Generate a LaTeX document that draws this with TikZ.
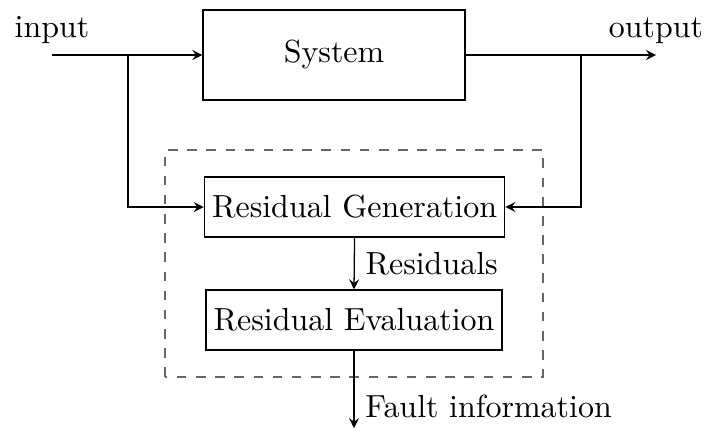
\documentclass[tikz,border=0pt]{standalone}
\usetikzlibrary{arrows}
\begin{document}
\begin{tikzpicture}[
        block/.style={draw,minimum height=0.66cm,inner xsep=2.4pt},
        flow/.style={-stealth},
        frame/.style={dashed,gray!80!black}]
            \useasboundingbox (0,0) rectangle (7.744,4.73);
            % blocks
            \node[block,minimum width=2.882cm,minimum height=0.99cm] (sys) at (3.674,4.125) {System};
            \node[block] (gen) at (3.9,2.453) {Residual Generation};
            \node[block] (eval) at (3.894,1.21) {Residual Evaluation};
            \draw[frame] (1.815,0.583) rectangle (5.973,3.08);
            % ends and branch points
            \coordinate (in) at (0.572,4.125);
            \coordinate (out) at (7.216,4.125);
            \coordinate (inb) at (1.408,4.125);
            \coordinate (outb) at (6.391,4.125);
            \coordinate (fault) at (3.894,0.02);
            \node[above] (inl) at (in) {input};
            \node[above] (outl) at (out) {output};
            % connectors
            \draw[flow] (in)--(sys.west);
            \draw[flow] (sys.east)--(out);
            \draw[flow] (inb)|-(gen.west);
            \draw[flow] (outb)|-(gen.east);
            \draw[flow] (gen.south)--(eval.north)
                node[midway,right] (resl) {Residuals};
            \draw[flow] (eval.south)--(fault)
                node[pos=0.72,right] (faultl) {Fault information};
\end{tikzpicture}
\end{document}
